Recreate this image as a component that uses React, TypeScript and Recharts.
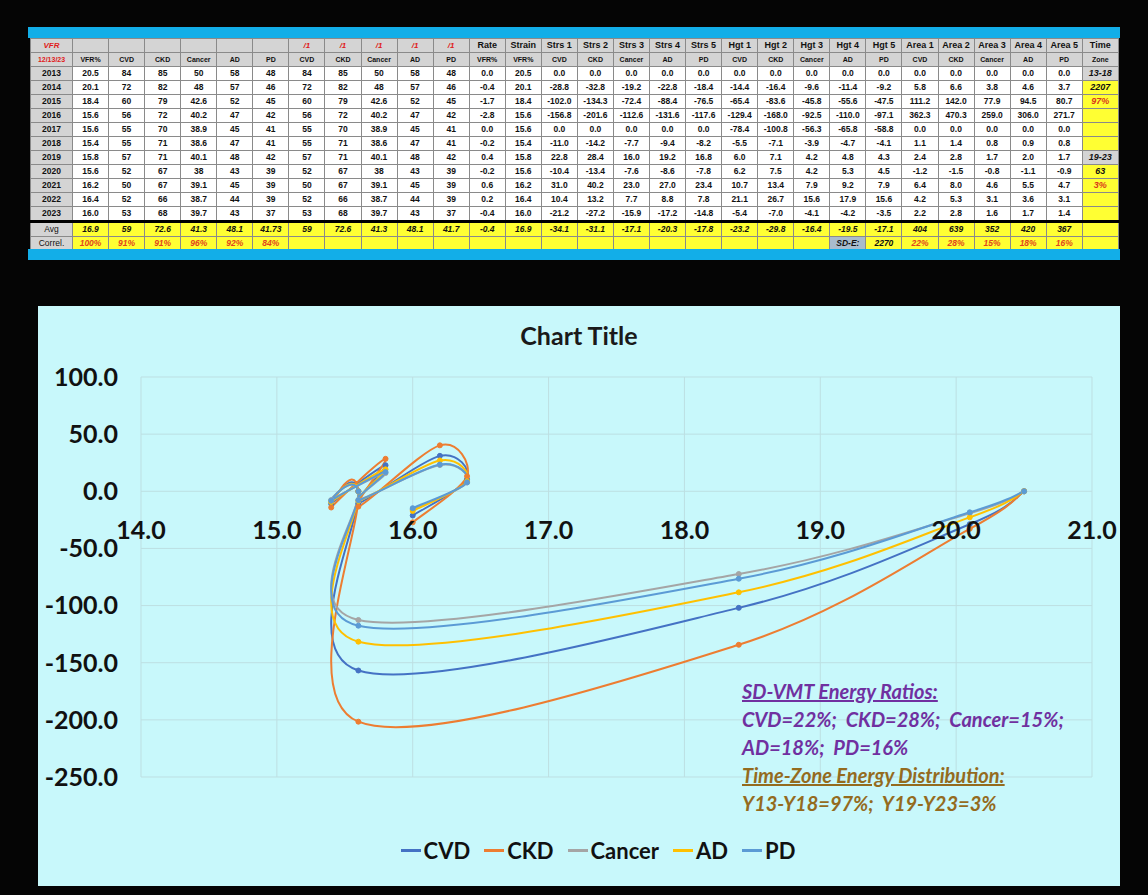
import React from 'react';
import { LineChart, Line, XAxis, YAxis, CartesianGrid, ReferenceDot } from 'recharts';

// spreadsheet rows (2013 - 2023)
const years = ['2013', '2014', '2015', '2016', '2017', '2018', '2019', '2020', '2021', '2022', '2023'];
const vfrPct = [20.5, 20.1, 18.4, 15.6, 15.6, 15.4, 15.8, 15.6, 16.2, 16.4, 16.0];
const cvdRaw = [84, 72, 60, 56, 55, 55, 57, 52, 50, 52, 53];
const ckdRaw = [85, 82, 79, 72, 70, 71, 71, 67, 67, 66, 68];
const cancerRaw = [50, 48, 42.6, 40.2, 38.9, 38.6, 40.1, 38, 39.1, 38.7, 39.7];
const adRaw = [58, 57, 52, 47, 45, 47, 48, 43, 45, 44, 43];
const pdRaw = [48, 46, 45, 42, 41, 41, 42, 39, 39, 39, 37];
const rate = [0.0, -0.4, -1.7, -2.8, 0.0, -0.2, 0.4, -0.2, 0.6, 0.2, -0.4];
const strain = [20.5, 20.1, 18.4, 15.6, 15.6, 15.4, 15.8, 15.6, 16.2, 16.4, 16.0];

const strsCvd = [0.0, -28.8, -102.0, -156.8, 0.0, -11.0, 22.8, -10.4, 31.0, 10.4, -21.2];
const strsCkd = [0.0, -32.8, -134.3, -201.6, 0.0, -14.2, 28.4, -13.4, 40.2, 13.2, -27.2];
const strsCancer = [0.0, -19.2, -72.4, -112.6, 0.0, -7.7, 16.0, -7.6, 23.0, 7.7, -15.9];
const strsAd = [0.0, -22.8, -88.4, -131.6, 0.0, -9.4, 19.2, -8.6, 27.0, 8.8, -17.2];
const strsPd = [0.0, -18.4, -76.5, -117.6, 0.0, -8.2, 16.8, -7.8, 23.4, 7.8, -14.8];

const hgtCvd = [0.0, -14.4, -65.4, -129.4, -78.4, -5.5, 6.0, 6.2, 10.7, 21.1, -5.4];
const hgtCkd = [0.0, -16.4, -83.6, -168.0, -100.8, -7.1, 7.1, 7.5, 13.4, 26.7, -7.0];
const hgtCancer = [0.0, -9.6, -45.8, -92.5, -56.3, -3.9, 4.2, 4.2, 7.9, 15.6, -4.1];
const hgtAd = [0.0, -11.4, -55.6, -110.0, -65.8, -4.7, 4.8, 5.3, 9.2, 17.9, -4.2];
const hgtPd = [0.0, -9.2, -47.5, -97.1, -58.8, -4.1, 4.3, 4.5, 7.9, 15.6, -3.5];

const areaCvd = [0.0, 5.8, 111.2, 362.3, 0.0, 1.1, 2.4, -1.2, 6.4, 4.2, 2.2];
const areaCkd = [0.0, 6.6, 142.0, 470.3, 0.0, 1.4, 2.8, -1.5, 8.0, 5.3, 2.8];
const areaCancer = [0.0, 3.8, 77.9, 259.0, 0.0, 0.8, 1.7, -0.8, 4.6, 3.1, 1.6];
const areaAd = [0.0, 4.6, 94.5, 306.0, 0.0, 0.9, 2.0, -1.1, 5.5, 3.6, 1.7];
const areaPd = [0.0, 3.7, 80.7, 271.7, 0.0, 0.8, 1.7, -0.9, 4.7, 3.1, 1.4];

const timeZone = ['13-18', '2207', '97%', '', '', '', '19-23', '63', '3%', '', ''];

const avgRow = ['16.9', '59', '72.6', '41.3', '48.1', '41.73', '59', '72.6', '41.3', '48.1', '41.7', '-0.4', '16.9',
  '-34.1', '-31.1', '-17.1', '-20.3', '-17.8', '-23.2', '-29.8', '-16.4', '-19.5', '-17.1', '404', '639', '352', '420', '367', ''];
const correlRow = ['100%', '91%', '91%', '96%', '92%', '84%', '', '', '', '', '', '', '', '', '', '', '', '', '', '', '',
  'SD-E:', '2270', '22%', '28%', '15%', '18%', '16%', ''];

const diseases = ['CVD', 'CKD', 'Cancer', 'AD', 'PD'];
const head1 = ['VFR', '', '', '', '', '', '', '/1', '/1', '/1', '/1', '/1', 'Rate', 'Strain',
  'Strs 1', 'Strs 2', 'Strs 3', 'Strs 4', 'Strs 5', 'Hgt 1', 'Hgt 2', 'Hgt 3', 'Hgt 4', 'Hgt 5',
  'Area 1', 'Area 2', 'Area 3', 'Area 4', 'Area 5', 'Time'];
const head2 = ['12/13/23', 'VFR%', ...diseases, ...diseases, 'VFR%', 'VFR%', ...diseases, ...diseases, ...diseases, 'Zone'];

// chart
const seriesNames = ['CVD', 'CKD', 'Cancer', 'AD', 'PD'];
const seriesColors = ['#4472C4', '#ED7D31', '#A5A5A5', '#FFC000', '#5B9BD5'];
const xTicks = [14, 15, 16, 17, 18, 19, 20, 21];
const yTicks = [100, 50, 0, -50, -100, -150, -200, -250];

const chartData = strain.map((x, i) => ({
  strain: x,
  CVD: strsCvd[i],
  CKD: strsCkd[i],
  Cancer: strsCancer[i],
  AD: strsAd[i],
  PD: strsPd[i],
}));

// excel-like smoothed scatter line (catmull-rom beziers)
function excelCurve(context: any) {
  let pts: number[][] = [];
  return {
    areaStart() {},
    areaEnd() {},
    lineStart() { pts = []; },
    lineEnd() {
      const n = pts.length;
      if (!n) return;
      context.moveTo(pts[0][0], pts[0][1]);
      for (let i = 0; i < n - 1; i++) {
        const p0 = pts[Math.max(i - 1, 0)];
        const p1 = pts[i];
        const p2 = pts[i + 1];
        const p3 = pts[Math.min(i + 2, n - 1)];
        context.bezierCurveTo(
          p1[0] + (p2[0] - p0[0]) / 6, p1[1] + (p2[1] - p0[1]) / 6,
          p2[0] - (p3[0] - p1[0]) / 6, p2[1] - (p3[1] - p1[1]) / 6,
          p2[0], p2[1]
        );
      }
    },
    point(x: number, y: number) { pts.push([+x, +y]); },
  };
}

const fmt1 = (v: number) => v.toFixed(1);

const cellBase: React.CSSProperties = {
  border: '1px solid #8a8a8a',
  padding: 0,
  textAlign: 'center',
  whiteSpace: 'nowrap',
  overflow: 'hidden',
  height: 13,
  lineHeight: '13px',
};
const GRAY = '#d4d4d4';
const YELLOW = '#ffff33';

function SheetTable() {
  const colW = [42, ...Array(29).fill(36.07)];
  const dataRows = years.map((y, i) => [
    fmt1(vfrPct[i]),
    String(cvdRaw[i]), String(ckdRaw[i]), String(cancerRaw[i]), String(adRaw[i]), String(pdRaw[i]),
    String(cvdRaw[i]), String(ckdRaw[i]), String(cancerRaw[i]), String(adRaw[i]), String(pdRaw[i]),
    fmt1(rate[i]), fmt1(strain[i]),
    fmt1(strsCvd[i]), fmt1(strsCkd[i]), fmt1(strsCancer[i]), fmt1(strsAd[i]), fmt1(strsPd[i]),
    fmt1(hgtCvd[i]), fmt1(hgtCkd[i]), fmt1(hgtCancer[i]), fmt1(hgtAd[i]), fmt1(hgtPd[i]),
    fmt1(areaCvd[i]), fmt1(areaCkd[i]), fmt1(areaCancer[i]), fmt1(areaAd[i]), fmt1(areaPd[i]),
  ]);
  return (
    <table style={{ borderCollapse: 'collapse', tableLayout: 'fixed', width: 1088, fontFamily: '"Liberation Sans", Arial, sans-serif', fontSize: 8.5, fontWeight: 700, color: '#111', background: '#fff' }}>
      <colgroup>
        {colW.map((w, i) => <col key={i} style={{ width: w }} />)}
      </colgroup>
      <tbody>
        <tr>
          {head1.map((h, i) => (
            <td key={i} style={{ ...cellBase, background: GRAY, fontSize: i >= 12 ? 9 : 8, color: i === 0 || h === '/1' ? '#e0201b' : '#111', fontStyle: h === '/1' || i === 0 ? 'italic' : 'normal' }}>{h}</td>
          ))}
        </tr>
        <tr>
          {head2.map((h, i) => (
            <td key={i} style={{ ...cellBase, background: GRAY, fontSize: 7, color: i === 0 ? '#e0201b' : '#111' }}>{h}</td>
          ))}
        </tr>
        {dataRows.map((row, r) => {
          const tz = timeZone[r];
          const tzGray = tz.includes('-');
          return (
            <tr key={r} style={{ borderBottom: r === dataRows.length - 1 ? '3px solid #000' : undefined }}>
              <td style={{ ...cellBase, background: GRAY }}>{years[r]}</td>
              {row.map((v, c) => (
                <td key={c} style={{ ...cellBase }}>{v}</td>
              ))}
              <td style={{ ...cellBase, background: tzGray ? GRAY : YELLOW, fontStyle: 'italic', fontSize: 9, color: tz.includes('%') ? '#d9361b' : '#111' }}>{tz}</td>
            </tr>
          );
        })}
        <tr>
          <td style={{ ...cellBase, background: GRAY, fontWeight: 400 }}>Avg</td>
          {avgRow.map((v, c) => (
            <td key={c} style={{ ...cellBase, background: YELLOW, fontStyle: 'italic' }}>{v}</td>
          ))}
        </tr>
        <tr>
          <td style={{ ...cellBase, background: GRAY, fontWeight: 400 }}>Correl.</td>
          {correlRow.map((v, c) => (
            <td key={c} style={{ ...cellBase, background: v === 'SD-E:' ? '#a9bccd' : YELLOW, fontStyle: 'italic', color: v.includes('%') ? '#e2461c' : '#111' }}>{v}</td>
          ))}
        </tr>
      </tbody>
    </table>
  );
}

const FONT = 'Lato, "Open Sans", sans-serif';

export default function App() {
  return (
    <div style={{ position: 'absolute', left: 0, top: 0, width: 1148, height: 895, background: '#050505', overflow: 'hidden' }}>
      <div style={{ position: 'absolute', left: 28, top: 27, width: 1092, height: 11, background: '#12aee8' }} />
      <div style={{ position: 'absolute', left: 30, top: 38 }}>
        <SheetTable />
      </div>
      <div style={{ position: 'absolute', left: 28, top: 249, width: 1092, height: 11, background: '#12aee8' }} />

      <div style={{ position: 'absolute', left: 38, top: 306, width: 1082, height: 580, background: '#c8f8fb', fontFamily: FONT }}>
        <div style={{ position: 'absolute', left: 0, top: 14, width: 1082, textAlign: 'center', fontSize: 25, fontWeight: 700, color: '#1a1a1a' }}>
          Chart Title
        </div>
        <LineChart width={1082} height={580} data={chartData} margin={{ top: 71, right: 28, bottom: 109, left: 0 }}>
          <CartesianGrid stroke="#bddfe2" strokeWidth={1} />
          <XAxis type="number" dataKey="strain" domain={[14, 21]} ticks={xTicks} hide />
          <YAxis
            type="number"
            domain={[-250, 100]}
            ticks={yTicks}
            width={103}
            axisLine={false}
            tickLine={false}
            tickMargin={17}
            tickFormatter={(v: number) => v.toFixed(1)}
            tick={{ fill: '#111', fontSize: 25, fontWeight: 700, fontFamily: FONT }}
          />
          {xTicks.map((t) => (
            <ReferenceDot
              key={t}
              x={t}
              y={0}
              r={0}
              fill="none"
              stroke="none"
              label={{ value: t.toFixed(1), position: 'bottom', offset: 30, fill: '#111', fontSize: 25, fontWeight: 700, fontFamily: FONT }}
            />
          ))}
          {seriesNames.map((name, i) => (
            <Line
              key={name}
              dataKey={name}
              type={excelCurve as any}
              stroke={seriesColors[i]}
              strokeWidth={2}
              dot={{ r: 2.5, fill: seriesColors[i], stroke: seriesColors[i], strokeWidth: 1 }}
              activeDot={false}
              isAnimationActive={false}
            />
          ))}
        </LineChart>

        <div style={{ position: 'absolute', left: 704, top: 371, fontSize: 20, fontWeight: 700, fontStyle: 'italic', lineHeight: '28px' }}>
          <div style={{ color: '#7030a0', textDecoration: 'underline' }}>SD-VMT Energy Ratios:</div>
          <div style={{ color: '#7030a0', whiteSpace: 'pre' }}>{'CVD=22%;  CKD=28%;  Cancer=15%;'}</div>
          <div style={{ color: '#7030a0', whiteSpace: 'pre' }}>{'AD=18%;  PD=16%'}</div>
          <div style={{ color: '#946b1e', textDecoration: 'underline' }}>Time-Zone Energy Distribution:</div>
          <div style={{ color: '#946b1e', whiteSpace: 'pre' }}>{'Y13-Y18=97%;  Y19-Y23=3%'}</div>
        </div>

        <div style={{ position: 'absolute', left: 0, top: 531, width: 1120, display: 'flex', justifyContent: 'center', gap: 14, fontSize: 22, fontWeight: 700, color: '#111' }}>
          {seriesNames.map((name, i) => (
            <div key={name} style={{ display: 'flex', alignItems: 'center' }}>
              <span style={{ display: 'inline-block', width: 20, height: 2.5, background: seriesColors[i], marginRight: 3 }} />
              <span>{name}</span>
            </div>
          ))}
        </div>
      </div>
    </div>
  );
}
